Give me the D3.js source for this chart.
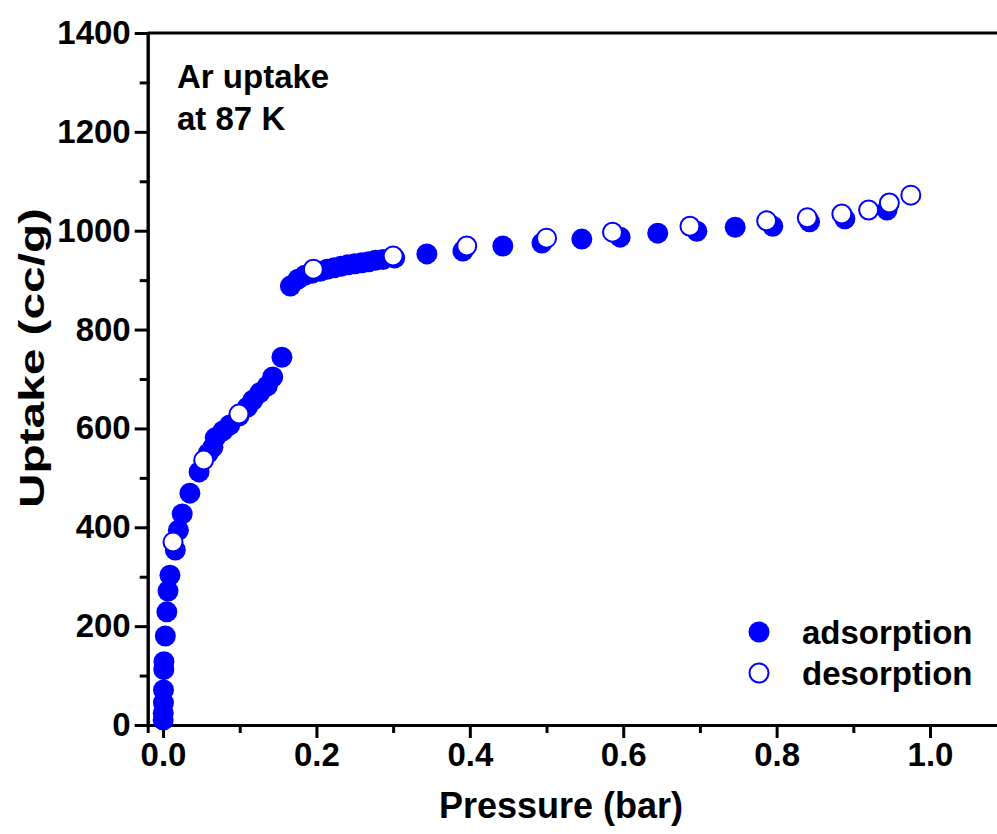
<!DOCTYPE html>
<html>
<head>
<meta charset="utf-8">
<script src="https://cdn.jsdelivr.net/npm/d3@7"></script>
<style>
  body { margin: 0; background: #fff; }
  text { font-family: 'Liberation Sans', Arial, sans-serif; font-weight: bold; }
</style>
</head>
<body>
<div id="chart"></div>
<script>
// ----------------------------DATA-------------------------------//
// [pressure (bar), uptake (cc/g)]
const adsorption = [
  [0.0002, 10], [0.0003, 24], [0.0005, 45], [0.0006, 71], [0.001, 112],
  [0.0012, 128], [0.003, 180], [0.005, 229], [0.0065, 271], [0.009, 303],
  [0.016, 354], [0.020, 394], [0.025, 427], [0.035, 469], [0.047, 512],
  [0.059, 550], [0.065, 562], [0.068, 581], [0.078, 595], [0.087, 607],
  [0.099, 625], [0.110, 643], [0.117, 657], [0.126, 672], [0.136, 686],
  [0.143, 704], [0.155, 744], [0.166, 888], [0.176, 902], [0.185, 910],
  [0.194, 914], [0.205, 918], [0.214, 922], [0.223, 925], [0.232, 928],
  [0.241, 931], [0.250, 933], [0.259, 935], [0.268, 937], [0.277, 940],
  [0.287, 942], [0.302, 945], [0.344, 953], [0.391, 959], [0.443, 969],
  [0.494, 975], [0.546, 983], [0.596, 987], [0.645, 995], [0.696, 999],
  [0.746, 1007], [0.795, 1009], [0.843, 1018], [0.889, 1024], [0.944, 1042],
];
const desorption = [
  [0.975, 1072], [0.947, 1056], [0.920, 1042], [0.885, 1034], [0.840, 1026],
  [0.787, 1020], [0.687, 1009], [0.586, 997], [0.500, 985], [0.396, 969],
  [0.300, 949], [0.196, 922], [0.099, 629], [0.053, 536], [0.013, 370],
];
const xMajor = [0, 0.2, 0.4, 0.6, 0.8, 1.0];
const xMinor = [0.1, 0.3, 0.5, 0.7, 0.9];
const yMajor = [0, 200, 400, 600, 800, 1000, 1200, 1400];
const yMinor = [100, 300, 500, 700, 900, 1100, 1300];
const legendItems = ['adsorption', 'desorption'];

const width = 997;
const height = 834;
const blue = '#0000ff';
const fontSize = 33;

const svg = d3.select('#chart').append('svg')
  .attr('width', width)
  .attr('height', height);

// ----------------------------SCALES-----------------------------//
const xScale = d3.scaleLinear().domain([-0.02, 1.1]).range([147.7, 1006.7]);
const yScale = d3.scaleLinear().domain([0, 1400]).range([725, 33]);

// -----------------------------AXES------------------------------//
const styleAxis = g => {
  g.selectAll('path, line').attr('stroke', '#000').attr('stroke-width', 3);
  g.selectAll('text').attr('fill', '#000').style('font-size', `${fontSize}px`);
};

svg.append('g')
  .attr('transform', `translate(0,${yScale(0)})`)
  .call(d3.axisBottom(xScale).tickValues(xMinor).tickSize(8).tickFormat(''))
  .call(styleAxis);

svg.append('g')
  .attr('transform', `translate(0,${yScale(0)})`)
  .call(d3.axisBottom(xScale).tickValues(xMajor).tickSize(13).tickSizeOuter(0)
    .tickPadding(5).tickFormat(d3.format('.1f')))
  .call(styleAxis);

svg.append('g')
  .attr('transform', `translate(${xScale(-0.02)},0)`)
  .call(d3.axisLeft(yScale).tickValues(yMinor).tickSize(8).tickFormat(''))
  .call(styleAxis);

svg.append('g')
  .attr('transform', `translate(${xScale(-0.02)},0)`)
  .call(d3.axisLeft(yScale).tickValues(yMajor).tickSize(13).tickSizeOuter(0)
    .tickPadding(4).tickFormat(d3.format('d')))
  .call(styleAxis);

// top frame line
svg.append('line')
  .attr('x1', xScale(-0.02)).attr('x2', xScale(1.1))
  .attr('y1', yScale(1400)).attr('y2', yScale(1400))
  .attr('stroke', '#000').attr('stroke-width', 3);

// axis titles
svg.append('text')
  .attr('x', 561).attr('y', 818)
  .attr('text-anchor', 'middle')
  .style('font-size', '36px')
  .text('Pressure (bar)');

svg.append('text')
  .attr('transform', 'translate(44,358) rotate(-90)')
  .attr('text-anchor', 'middle')
  .attr('textLength', 300)
  .attr('lengthAdjust', 'spacingAndGlyphs')
  .style('font-size', '35px')
  .text('Uptake (cc/g)');

// annotation
const note = svg.append('text')
  .attr('x', 177).attr('y', 88)
  .style('font-size', `${fontSize}px`);
note.append('tspan').attr('x', 177).text('Ar uptake');
note.append('tspan').attr('x', 177).attr('dy', 42).text('at 87 K');

// ----------------------------POINTS-----------------------------//
svg.append('g').selectAll('circle')
  .data(adsorption)
  .enter()
  .append('circle')
  .attr('cx', d => xScale(d[0]))
  .attr('cy', d => yScale(d[1]))
  .attr('r', 10.5)
  .attr('fill', blue);

svg.append('g').selectAll('circle')
  .data(desorption)
  .enter()
  .append('circle')
  .attr('cx', d => xScale(d[0]))
  .attr('cy', d => yScale(d[1]))
  .attr('r', 9.5)
  .attr('fill', '#fff')
  .attr('stroke', blue)
  .attr('stroke-width', 2);

// ----------------------------LEGEND-----------------------------//
const legend = svg.append('g').selectAll('g')
  .data(legendItems)
  .enter()
  .append('g')
  .attr('transform', (d, i) => `translate(759,${632 + i * 41})`);

legend.append('circle')
  .attr('r', (d, i) => (i === 0 ? 10.5 : 9.5))
  .attr('fill', (d, i) => (i === 0 ? blue : '#fff'))
  .attr('stroke', (d, i) => (i === 0 ? 'none' : blue))
  .attr('stroke-width', 2);

legend.append('text')
  .attr('x', 43)
  .attr('y', 12)
  .style('font-size', `${fontSize}px`)
  .text(d => d);
</script>
</body>
</html>
